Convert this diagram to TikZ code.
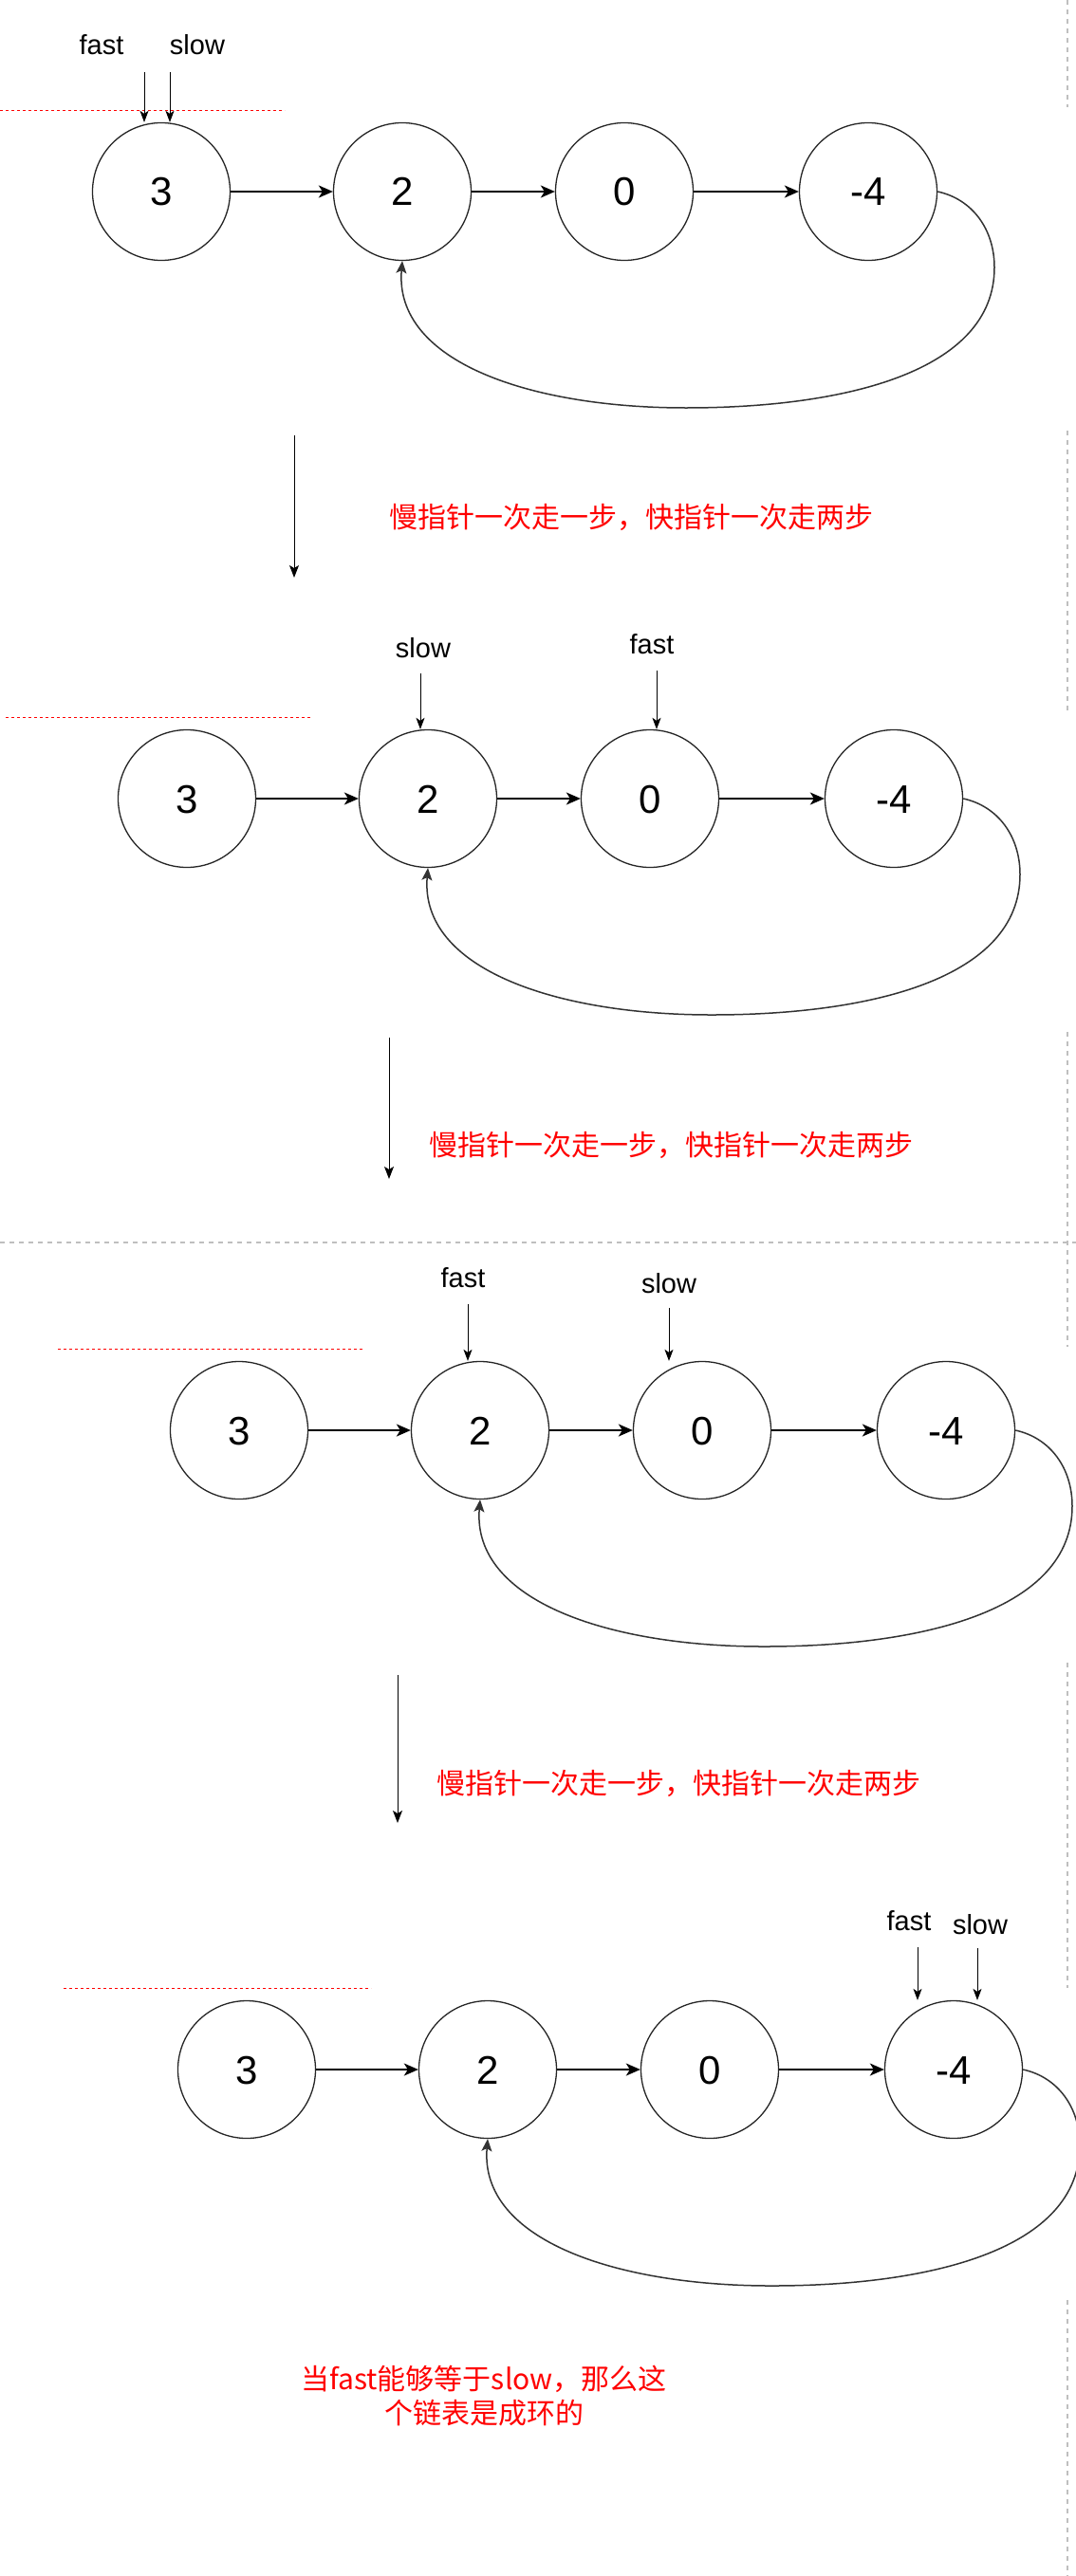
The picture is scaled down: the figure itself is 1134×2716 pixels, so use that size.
\documentclass[tikz,border=0pt]{standalone}
\usepackage{fontspec}
\setmainfont{Liberation Sans}
\newfontfamily\cjk{Noto Sans CJK SC}
\usetikzlibrary{arrows.meta,calc}
\newcommand\listpanel[3]{%
  \begin{scope}[shift={(#2,#3)}]
    \node[listnode] (a#1) at (0,0) {3};
    \node[listnode] (b#1) at (254,0) {2};
    \node[listnode] (c#1) at (488,0) {0};
    \node[listnode] (d#1) at (745,0) {-4};
    \draw[link] (a#1) -- (b#1);
    \draw[link] (b#1) -- (c#1);
    \draw[link] (c#1) -- (d#1);
    \draw[back] (d#1.east) .. controls (855,8) and (878,40) .. (878,80)
      .. controls (878,190) and (720,228) .. (553,228)
      .. controls (390,228) and (245,180) .. (b#1.south);
  \end{scope}}
\begin{document}
\begin{tikzpicture}[x=1pt,y=-1pt,
  listnode/.style={circle,draw=black!85,line width=1.3pt,minimum size=145pt,inner sep=0pt,
    font=\fontsize{42}{50}\selectfont,text height=30pt,text depth=0pt},
  link/.style={line width=1.6pt,-{Stealth[length=15pt,width=13pt,inset=4pt]}},
  back/.style={draw=black!80,line width=1.5pt,-{Stealth[length=13pt,width=11pt,inset=3pt]}},
  ptr/.style={line width=1pt,-{Stealth[length=12pt,width=9pt,inset=3pt]}},
  gaparrow/.style={line width=1pt,-{Stealth[length=13pt,width=10pt,inset=3pt]}},
  lbl/.style={font=\fontsize{29}{34}\selectfont,inner sep=0pt,anchor=base},
  note/.style={font=\cjk\fontsize{30}{36}\selectfont,text=red,inner sep=0pt,align=center,anchor=base},
  redline/.style={red,line width=1pt,dash pattern=on 3pt off 3pt},
  pageline/.style={black!25,line width=1.5pt,dash pattern=on 5pt off 5pt}]
\fill[white] (0,0) rectangle (1134,2716);
\useasboundingbox (0,0) rectangle (1134,2716);

% page break lines
\draw[pageline] (1125,0) -- (1125,113);
\draw[pageline] (1125,454) -- (1125,753);
\draw[pageline] (1125,1088) -- (1125,1420);
\draw[pageline] (1125,1753) -- (1125,2096);
\draw[pageline] (1125,2425) -- (1125,2716);
\draw[pageline] (0,1310) -- (1134,1310);

% red dotted lines
\draw[redline] (0,117) -- (300,117);
\draw[redline] (6,756) -- (328,756);
\draw[redline] (61,1422) -- (383,1422);
\draw[redline] (67,2096) -- (391,2096);

% panels
\listpanel{1}{170}{202}
\listpanel{2}{197}{842}
\listpanel{3}{252}{1508}
\listpanel{4}{260}{2182}

% pointers panel 1
\node[lbl] (f1) at (107,58) {fast};
\node[lbl] (s1) at (208,58) {slow};
\coordinate (pf1) at (152,76);
\coordinate (ps1) at (179,76);
\draw[ptr] (pf1) -- (pf1 |- a1.north);
\draw[ptr] (ps1) -- (ps1 |- a1.north);

% pointers panel 2
\node[lbl] (s2) at (446,693) {slow};
\node[lbl] (f2) at (687,689) {fast};
\coordinate (ps2) at (443,710);
\coordinate (pf2) at (692,707);
\draw[ptr] (ps2) -- (ps2 |- b2.north);
\draw[ptr] (pf2) -- (pf2 |- c2.north);

% pointers panel 3
\node[lbl] (f3) at (488,1357) {fast};
\node[lbl] (s3) at (705,1363) {slow};
\coordinate (pf3) at (493,1375);
\coordinate (ps3) at (705,1379);
\draw[ptr] (pf3) -- (pf3 |- b3.north);
\draw[ptr] (ps3) -- (ps3 |- c3.north);

% pointers panel 4
\node[lbl] (f4) at (958,2035) {fast};
\node[lbl] (s4) at (1033,2039) {slow};
\coordinate (pf4) at (967,2053);
\coordinate (ps4) at (1030,2054);
\draw[ptr] (pf4) -- (pf4 |- d4.north);
\draw[ptr] (ps4) -- (ps4 |- d4.north);

% step arrows and notes
\coordinate (g1a) at (310,459); \coordinate (g1b) at (310,609);
\coordinate (g2a) at (410,1094); \coordinate (g2b) at (410,1243);
\coordinate (g3a) at (419,1766); \coordinate (g3b) at (419,1922);
\draw[gaparrow] (g1a) -- (g1b);
\draw[gaparrow] (g2a) -- (g2b);
\draw[gaparrow] (g3a) -- (g3b);
\node[note] (n1) at (665,556) {慢指针一次走一步，快指针一次走两步};
\node[note] (n2) at (707,1218) {慢指针一次走一步，快指针一次走两步};
\node[note] (n3) at (715,1891) {慢指针一次走一步，快指针一次走两步};
\node[note] (n4) at (510,2555) {当fast能够等于slow，那么这\\个链表是成环的};
\end{tikzpicture}
\end{document}
